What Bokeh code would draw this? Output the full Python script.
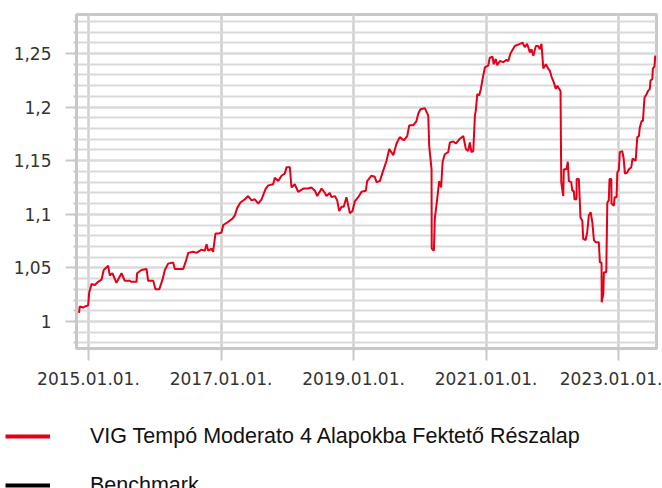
import pandas as pd
from bokeh.plotting import figure
from bokeh.layouts import column
from bokeh.models import (Range1d, FixedTicker, DatetimeTickFormatter, CustomJSTickFormatter,
                          Legend, LegendItem)
from bokeh.embed import file_html
from bokeh.resources import INLINE

# ---------------- data ----------------
series_name = "VIG Tempó Moderato 4 Alapokba Fektető Részalap"
benchmark_name = "Benchmark"

dates = [
    "2014-11-10", "2014-11-14", "2014-12-03", "2014-12-12", "2014-12-30", "2015-01-05", "2015-01-18",
    "2015-02-05", "2015-02-23", "2015-03-14", "2015-03-26", "2015-04-20", "2015-04-28", "2015-05-13",
    "2015-06-04", "2015-07-02", "2015-07-20", "2015-08-17", "2015-08-26", "2015-09-23", "2015-09-26",
    "2015-10-20", "2015-11-17", "2015-11-26", "2015-12-24", "2016-01-05", "2016-01-26", "2016-02-13",
    "2016-02-26", "2016-03-15", "2016-04-12", "2016-04-21", "2016-06-06", "2016-06-24", "2016-07-04",
    "2016-07-31", "2016-08-18", "2016-09-15", "2016-10-03", "2016-10-13", "2016-10-22", "2016-11-09",
    "2016-11-18", "2016-12-01", "2016-12-16", "2017-01-03", "2017-01-13", "2017-02-09", "2017-03-05",
    "2017-03-18", "2017-03-31", "2017-04-18", "2017-05-12", "2017-05-30", "2017-06-18", "2017-07-06",
    "2017-07-25", "2017-08-12", "2017-09-04", "2017-09-18", "2017-10-15", "2017-10-24", "2017-11-12",
    "2017-11-30", "2017-12-18", "2017-12-28", "2018-01-15", "2018-01-24", "2018-02-11", "2018-03-02",
    "2018-03-30", "2018-04-26", "2018-05-14", "2018-06-02", "2018-06-15", "2018-07-09", "2018-07-27",
    "2018-08-05", "2018-08-23", "2018-09-02", "2018-09-20", "2018-10-03", "2018-10-14", "2018-10-27",
    "2018-11-08", "2018-11-23", "2018-12-03", "2018-12-12", "2018-12-26", "2019-01-08", "2019-01-27",
    "2019-02-14", "2019-03-10", "2019-03-17", "2019-04-10", "2019-04-28", "2019-05-08", "2019-05-26",
    "2019-06-14", "2019-07-02", "2019-07-17", "2019-08-08", "2019-08-26", "2019-09-13", "2019-10-05",
    "2019-10-24", "2019-11-04", "2019-11-26", "2019-12-14", "2019-12-24", "2020-01-05", "2020-01-29",
    "2020-02-17", "2020-02-22", "2020-03-06", "2020-03-07", "2020-03-19", "2020-03-24", "2020-04-06",
    "2020-04-17", "2020-04-28", "2020-05-06", "2020-05-18", "2020-06-06", "2020-06-15", "2020-07-04",
    "2020-07-18", "2020-08-06", "2020-08-28", "2020-09-11", "2020-09-24", "2020-10-03", "2020-10-12",
    "2020-10-22", "2020-10-31", "2020-11-05", "2020-11-13", "2020-11-24", "2020-12-03", "2020-12-12",
    "2020-12-25", "2021-01-13", "2021-01-21", "2021-02-05", "2021-02-12", "2021-02-23", "2021-03-03",
    "2021-03-18", "2021-04-05", "2021-04-23", "2021-05-03", "2021-05-15", "2021-06-08", "2021-07-06",
    "2021-07-21", "2021-08-02", "2021-08-15", "2021-08-30", "2021-09-08", "2021-09-18", "2021-10-02",
    "2021-10-15", "2021-10-24", "2021-11-02", "2021-11-12", "2021-11-26", "2021-12-09", "2021-12-18",
    "2021-12-28", "2022-01-09", "2022-01-20", "2022-01-28", "2022-02-15", "2022-02-19", "2022-03-02",
    "2022-03-05", "2022-03-20", "2022-03-27", "2022-04-02", "2022-04-15", "2022-04-21", "2022-04-29",
    "2022-05-03", "2022-05-14", "2022-05-15", "2022-05-27", "2022-06-05", "2022-06-15", "2022-06-20",
    "2022-07-03", "2022-07-12", "2022-07-21", "2022-07-31", "2022-08-09", "2022-08-18", "2022-08-27",
    "2022-09-14", "2022-09-20", "2022-09-29", "2022-09-30", "2022-10-09", "2022-10-12", "2022-10-25",
    "2022-10-31", "2022-11-08", "2022-11-12", "2022-11-22", "2022-11-23", "2022-12-06", "2022-12-10",
    "2022-12-21", "2022-12-25", "2023-01-02", "2023-01-08", "2023-01-21", "2023-01-29", "2023-02-05",
    "2023-02-18", "2023-02-27", "2023-03-12", "2023-03-19", "2023-04-05", "2023-04-14", "2023-04-23",
    "2023-04-28", "2023-05-08", "2023-05-15", "2023-05-24", "2023-06-04", "2023-06-12", "2023-06-22",
    "2023-06-26", "2023-07-06", "2023-07-09", "2023-07-18", "2023-07-22",
]

fund_values = [
    1.008, 1.014, 1.013, 1.014, 1.015, 1.027, 1.035,
    1.034, 1.037, 1.039, 1.048, 1.052, 1.043, 1.045,
    1.036, 1.045, 1.038, 1.038, 1.037, 1.037, 1.045,
    1.048, 1.049, 1.038, 1.038, 1.030, 1.030, 1.039,
    1.048, 1.054, 1.055, 1.049, 1.049, 1.058, 1.064,
    1.065, 1.064, 1.067, 1.066, 1.072, 1.066, 1.068,
    1.065, 1.082, 1.082, 1.083, 1.090, 1.093, 1.096,
    1.099, 1.106, 1.111, 1.114, 1.117, 1.113, 1.114,
    1.110, 1.114, 1.124, 1.127, 1.128, 1.134, 1.131,
    1.136, 1.138, 1.144, 1.144, 1.125, 1.128, 1.121,
    1.124, 1.124, 1.125, 1.122, 1.117, 1.124, 1.120,
    1.117, 1.120, 1.116, 1.117, 1.113, 1.103, 1.107,
    1.107, 1.116, 1.108, 1.101, 1.103, 1.112, 1.116,
    1.121, 1.122, 1.131, 1.136, 1.135, 1.130, 1.131,
    1.141, 1.150, 1.161, 1.155, 1.166, 1.172, 1.169,
    1.173, 1.183, 1.183, 1.187, 1.194, 1.198, 1.199,
    1.192, 1.164, 1.142, 1.068, 1.066, 1.096, 1.114,
    1.131, 1.125, 1.149, 1.156, 1.158, 1.167, 1.168,
    1.166, 1.170, 1.173, 1.161, 1.159, 1.167, 1.158,
    1.159, 1.192, 1.197, 1.212, 1.211, 1.217, 1.226,
    1.237, 1.239, 1.246, 1.247, 1.240, 1.245, 1.239,
    1.243, 1.242, 1.244, 1.243, 1.250, 1.257, 1.259,
    1.260, 1.256, 1.259, 1.251, 1.254, 1.248, 1.257,
    1.257, 1.254, 1.259, 1.236, 1.240, 1.236, 1.234,
    1.228, 1.223, 1.217, 1.220, 1.215, 1.130, 1.117,
    1.142, 1.142, 1.149, 1.131, 1.130, 1.122, 1.122,
    1.114, 1.114, 1.133, 1.133, 1.097, 1.094, 1.077,
    1.076, 1.083, 1.099, 1.102, 1.093, 1.076, 1.074,
    1.074, 1.055, 1.055, 1.018, 1.026, 1.046, 1.046,
    1.111, 1.113, 1.133, 1.133, 1.110, 1.108, 1.116,
    1.116, 1.139, 1.141, 1.158, 1.159, 1.152, 1.138,
    1.139, 1.142, 1.144, 1.152, 1.150, 1.172, 1.173,
    1.181, 1.187, 1.187, 1.209, 1.212, 1.215, 1.217,
    1.225, 1.226, 1.236, 1.238, 1.248,
]

x_tick_dates = ["2015-01-01", "2017-01-01", "2019-01-01", "2021-01-01", "2023-01-01"]
x_tick_labels = ["2015.01.01.", "2017.01.01.", "2019.01.01.", "2021.01.01.", "2023.01.01."]
y_ticks = [1.0, 1.05, 1.1, 1.15, 1.2, 1.25]
y_tick_labels = ["1", "1,05", "1,1", "1,15", "1,2", "1,25"]
y_minor_ticks = [round(0.98 + 0.01 * i, 2) for i in range(31)]

x_start, x_end = "2014-10-27", "2023-07-29"
y_start, y_end = 0.9748, 1.2864

# ---------------- chart ----------------
RED = "#e2001a"
GRID = "#d9d9d9"
FRAME = "#c8c8c8"
TICKFONT = "DejaVu Sans"
W = 662

xs = pd.to_datetime(dates)

p = figure(width=W, height=400, x_axis_type="datetime", output_backend="svg",
           toolbar_location=None, title=None,
           x_range=Range1d(pd.Timestamp(x_start), pd.Timestamp(x_end)),
           y_range=Range1d(y_start, y_end),
           min_border_left=76, min_border_right=6, min_border_top=14, min_border_bottom=52)
p.frame_align = False
p.background_fill_color = "white"
p.border_fill_color = "white"
p.outline_line_color = FRAME
p.outline_line_width = 3

x_tick_ms = [float(pd.Timestamp(d).value // 10**6) for d in x_tick_dates]
p.xaxis.ticker = FixedTicker(ticks=x_tick_ms)
p.xaxis.formatter = DatetimeTickFormatter(years="%Y.%m.%d.", months="%Y.%m.%d.", days="%Y.%m.%d.")
p.xaxis.major_label_overrides = {t: lab for t, lab in zip(x_tick_ms, x_tick_labels)}
p.yaxis.ticker = FixedTicker(ticks=y_ticks, minor_ticks=y_minor_ticks)
p.yaxis.formatter = CustomJSTickFormatter(
    code="return tick.toFixed(2).replace(/0+$/, '').replace(/\\.$/, '').replace('.', ',')")
p.yaxis.major_label_overrides = {t: lab for t, lab in zip(y_ticks, y_tick_labels)}

for ax in (p.xaxis[0], p.yaxis[0]):
    ax.axis_line_color = FRAME
    ax.axis_line_width = 3
    ax.major_tick_line_color = FRAME
    ax.major_tick_line_width = 2
    ax.major_tick_in = 0
    ax.major_label_text_font = TICKFONT
    ax.major_label_text_font_size = "17px"
    ax.major_label_text_color = "#333333"

p.xaxis.major_tick_out = 12
p.xaxis.minor_tick_line_color = None
p.xaxis.major_label_standoff = 11
p.yaxis.major_tick_out = 11
p.yaxis.minor_tick_out = 3
p.yaxis.minor_tick_in = 0
p.yaxis.minor_tick_line_color = FRAME
p.yaxis.minor_tick_line_width = 2
p.yaxis.major_label_standoff = 14

p.ygrid.grid_line_color = GRID
p.ygrid.grid_line_width = 2
p.ygrid.minor_grid_line_color = GRID
p.ygrid.minor_grid_line_width = 2
p.xgrid.grid_line_color = "#d0d0d0"
p.xgrid.grid_line_width = 2.5

p.line(xs, fund_values, line_color=RED, line_width=2)

# ---------------- legend strip ----------------
lg = figure(width=W, height=88, output_backend="svg", toolbar_location=None, title=None,
            x_axis_location=None, y_axis_location=None,
            x_range=Range1d(0, 1), y_range=Range1d(0, 1),
            min_border_left=0, min_border_right=0, min_border_top=0, min_border_bottom=0)
lg.frame_align = False
lg.grid.visible = False
lg.outline_line_color = None
lg.background_fill_color = "white"
lg.border_fill_color = "white"

# legend-only renderers: one undefined (NaN) point each, so nothing is drawn in the strip
nan = float("nan")
leg_red = lg.line([nan], [nan], line_color=RED, line_width=4)
leg_black = lg.line([nan], [nan], line_color="black", line_width=4)

legend = Legend(items=[LegendItem(label=series_name, renderers=[leg_red]),
                       LegendItem(label=benchmark_name, renderers=[leg_black])],
                location=(5, -12), orientation="vertical",
                glyph_width=45, glyph_height=30, label_height=30, label_width=10,
                label_standoff=40, spacing=19, padding=0, margin=0,
                border_line_color=None, background_fill_alpha=0,
                label_text_font="Liberation Sans", label_text_font_size="21.5px",
                label_text_color="#111111")
lg.add_layout(legend, "center")

layout = column(p, lg, spacing=0)

open("out.html", "w").write(file_html(layout, INLINE))
